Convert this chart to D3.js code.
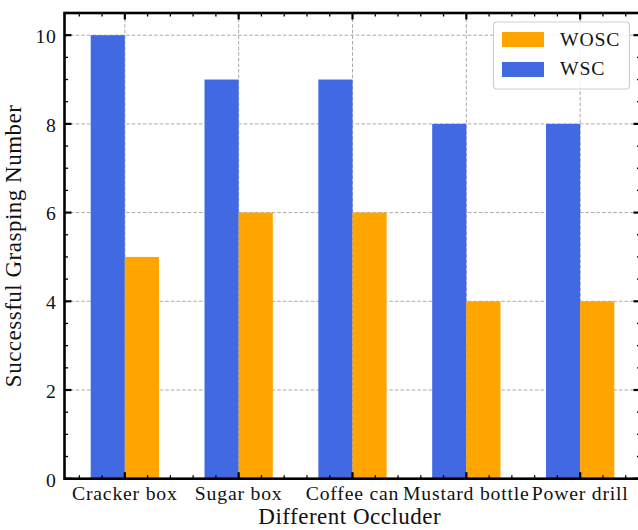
<!DOCTYPE html>
<html>
<head>
<meta charset="utf-8">
<script src="https://cdn.jsdelivr.net/npm/d3@7"></script>
<style>
  html, body { margin: 0; padding: 0; background: #fff; overflow: hidden; }
  svg { display: block; }
  svg text { font-family: "Liberation Serif", "Times New Roman", serif; fill: #111; }
</style>
</head>
<body>
<svg id="chart" width="638" height="530"></svg>
<script>
const categories = ["Cracker box", "Sugar box", "Coffee can", "Mustard bottle", "Power drill"];
const wscValues = [10, 9, 9, 8, 8];
const woscValues = [5, 6, 6, 4, 4];
const yTicks = [0, 2, 4, 6, 8, 10];
const seriesNames = ["WOSC", "WSC"];
const seriesColors = ["#FFA500", "#4169E1"];

(function () {
const svg = d3.select("#chart");
svg.append("rect").attr("width", 638).attr("height", 530).attr("fill", "#fff");

const pLeft = 64.5, pRight = 640.5, pTop = 13, pBottom = 478.7;
const x = d3.scaleLinear().domain([-0.53, 4.53]).range([pLeft, pRight]);
const y = d3.scaleLinear().domain([0, 10.5]).range([pBottom, pTop]);
const barW = 0.3;

// grid
const grid = svg.append("g");
grid.selectAll("line.hg").data(yTicks).join("line")
  .attr("x1", pLeft).attr("x2", pRight)
  .attr("y1", d => y(d)).attr("y2", d => y(d))
  .attr("stroke", "#a0a0a0").attr("stroke-width", 0.9).attr("stroke-dasharray", "3.6,2");
grid.selectAll("line.vg").data(d3.range(categories.length)).join("line")
  .attr("x1", d => x(d)).attr("x2", d => x(d))
  .attr("y1", pTop).attr("y2", pBottom)
  .attr("stroke", "#a0a0a0").attr("stroke-width", 0.9).attr("stroke-dasharray", "3.6,2");

// bars
const bars = svg.append("g");
bars.selectAll("rect.wsc").data(wscValues).join("rect")
  .attr("x", (d, i) => x(i - barW)).attr("width", (d, i) => x(i) - x(i - barW))
  .attr("y", d => y(d)).attr("height", d => y(0) - y(d))
  .attr("fill", seriesColors[1]);
bars.selectAll("rect.wosc").data(woscValues).join("rect")
  .attr("x", (d, i) => x(i)).attr("width", (d, i) => x(i + barW) - x(i))
  .attr("y", d => y(d)).attr("height", d => y(0) - y(d))
  .attr("fill", seriesColors[0]);

// ticks
const ticks = svg.append("g").attr("stroke", "#000");
const xMinor = d3.range(-0.4, 4.5, 0.2).map(v => Math.round(v * 10) / 10).filter(v => Math.abs(v - Math.round(v)) > 1e-6);
const yMinor = d3.range(0.5, 10.5, 0.5).filter(v => v % 2 !== 0);
const xMajor = d3.range(categories.length);
[pBottom, pTop].forEach((yy, k) => {
  const dir = k === 0 ? -1 : 1;
  ticks.append("g").selectAll("line").data(xMajor).join("line")
    .attr("x1", d => x(d)).attr("x2", d => x(d)).attr("y1", yy).attr("y2", yy + dir * 6.5)
    .attr("stroke-width", 2.2);
  ticks.append("g").selectAll("line").data(xMinor).join("line")
    .attr("x1", d => x(d)).attr("x2", d => x(d)).attr("y1", yy).attr("y2", yy + dir * 3.5)
    .attr("stroke-width", 1.3);
});
[pLeft, pRight].forEach((xx, k) => {
  const dir = k === 0 ? 1 : -1;
  ticks.append("g").selectAll("line").data(yTicks).join("line")
    .attr("y1", d => y(d)).attr("y2", d => y(d)).attr("x1", xx).attr("x2", xx + dir * 7)
    .attr("stroke-width", 2.2);
  ticks.append("g").selectAll("line").data(yMinor).join("line")
    .attr("y1", d => y(d)).attr("y2", d => y(d)).attr("x1", xx).attr("x2", xx + dir * 3.5)
    .attr("stroke-width", 1.3);
});

// frame
svg.append("rect").attr("x", pLeft).attr("y", pTop)
  .attr("width", pRight - pLeft).attr("height", pBottom - pTop)
  .attr("fill", "none").attr("stroke", "#000").attr("stroke-width", 2.6);

// tick labels
svg.append("g").selectAll("text").data(categories).join("text")
  .attr("x", (d, i) => x(i)).attr("y", 500)
  .attr("text-anchor", "middle").attr("font-size", 19.7).attr("letter-spacing", 0.8)
  .text(d => d);
svg.append("g").selectAll("text").data(yTicks).join("text")
  .attr("x", 56.5).attr("y", d => y(d) + 7.8)
  .attr("text-anchor", "end").attr("font-size", 19.7).attr("letter-spacing", 0.6)
  .text(d => d);

// axis labels
svg.append("text").attr("x", (pLeft + 629) / 2 + 3).attr("y", 524)
  .attr("text-anchor", "middle").attr("font-size", 23).attr("letter-spacing", 0.5)
  .text("Different Occluder");
svg.append("text")
  .attr("transform", `translate(21,${(pTop + pBottom) / 2}) rotate(-90)`)
  .attr("text-anchor", "middle").attr("font-size", 23).attr("letter-spacing", 0.5)
  .text("Successful Grasping Number");

// legend
const lg = svg.append("g");
lg.append("rect").attr("x", 493.5).attr("y", 22).attr("width", 136).attr("height", 67)
  .attr("rx", 3.5).attr("fill", "#fff").attr("fill-opacity", 0.85)
  .attr("stroke", "#cfcfcf").attr("stroke-width", 1.2);
seriesNames.forEach((name, i) => {
  lg.append("rect").attr("x", 502).attr("y", 32 + i * 30).attr("width", 42).attr("height", 15)
    .attr("fill", seriesColors[i]);
  lg.append("text").attr("x", 560).attr("y", 46.3 + i * 29)
    .attr("font-size", 19.7).attr("letter-spacing", 0.8).text(name);
});
})();
</script>
</body>
</html>
